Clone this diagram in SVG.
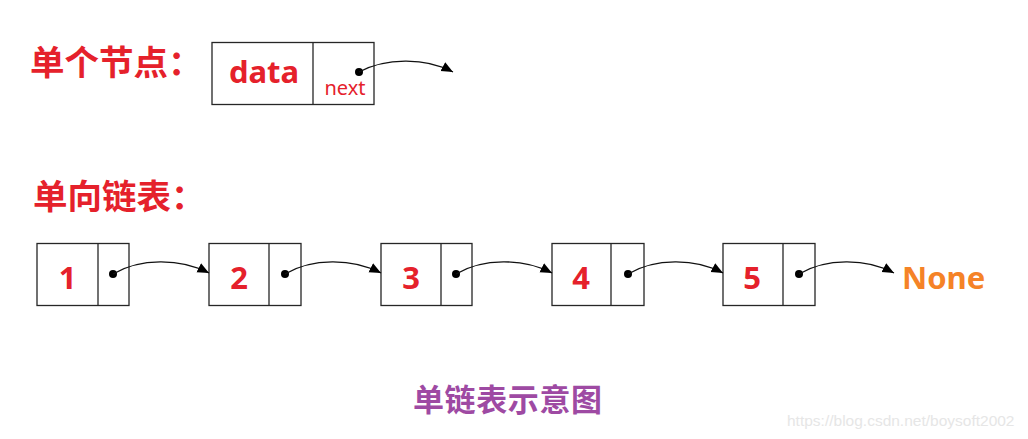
<svg xmlns="http://www.w3.org/2000/svg" width="1028" height="439" viewBox="0 0 1028 439">
<style>
.box{fill:#fff;stroke:#262626;stroke-width:1.3}
.div{stroke:#262626;stroke-width:1.3}
.cn{font-family:"Noto Sans CJK SC","Noto Sans",sans-serif;font-weight:bold;font-size:34.5px;fill:#e5212b}
.num{font-family:"Noto Sans","Open Sans",sans-serif;font-weight:bold;font-size:31px;fill:#e5212b;text-anchor:middle}
.dot{fill:#000}
.link{fill:none;stroke:#111;stroke-width:1.3;marker-end:url(#ah)}
</style>
<defs>
<marker id="ah" markerUnits="userSpaceOnUse" markerWidth="13" markerHeight="11" refX="11.5" refY="5" orient="auto">
<path d="M0,0 L11.5,5 L0,10 z" fill="#000"/>
</marker>
</defs>
<rect width="1028" height="439" fill="#fff"/>
<text class="cn" x="30" y="75">单个节点：</text>
<text class="cn" x="33" y="209">单向链表：</text>
<g id="single-node">
<rect class="box" x="212" y="42.5" width="162" height="62"/>
<line class="div" x1="313" y1="42.5" x2="313" y2="104.5"/>
<text class="num" x="264" y="83" font-size="32">data</text>
<text x="345" y="95" font-family="'Noto Sans','Open Sans',sans-serif" font-size="20" fill="#e5212b" text-anchor="middle">next</text>
<circle class="dot" cx="359" cy="72" r="4"/>
</g>
<g id="node1">
<rect class="box" x="37" y="243.5" width="92" height="62"/>
<line class="div" x1="98" y1="243.5" x2="98" y2="305.5"/>
<text class="num" x="67.5" y="289">1</text>
<circle class="dot" cx="113" cy="274" r="4"/>
</g>
<g id="node2">
<rect class="box" x="209" y="243.5" width="92" height="62"/>
<line class="div" x1="269" y1="243.5" x2="269" y2="305.5"/>
<text class="num" x="239" y="289">2</text>
<circle class="dot" cx="285" cy="274" r="4"/>
</g>
<g id="node3">
<rect class="box" x="381" y="243.5" width="91" height="62"/>
<line class="div" x1="441" y1="243.5" x2="441" y2="305.5"/>
<text class="num" x="411" y="289">3</text>
<circle class="dot" cx="456" cy="274" r="4"/>
</g>
<g id="node4">
<rect class="box" x="552" y="243.5" width="92" height="62"/>
<line class="div" x1="611" y1="243.5" x2="611" y2="305.5"/>
<text class="num" x="581" y="289">4</text>
<circle class="dot" cx="628" cy="274" r="4"/>
</g>
<g id="node5">
<rect class="box" x="723" y="243.5" width="92" height="62"/>
<line class="div" x1="783" y1="243.5" x2="783" y2="305.5"/>
<text class="num" x="752" y="289">5</text>
<circle class="dot" cx="799" cy="274" r="4"/>
</g>
<g id="none">
<text x="902" y="289" font-family="'Noto Sans','Open Sans',sans-serif" font-weight="bold" font-size="31" fill="#f58327">None</text>
</g>
<g id="connectors">
<path class="link" d="M359,72 C385,58 425,57 453,72"/>
<path class="link" d="M113,274 C140,258 180,258 209,273"/>
<path class="link" d="M285,274 C312,258 352,258 381,273"/>
<path class="link" d="M456,274 C483,258 523,258 552,273"/>
<path class="link" d="M628,274 C655,258 695,258 723,273"/>
<path class="link" d="M799,274 C826,258 866,258 894,273"/>
</g>
<text x="413" y="411" font-family="'Noto Sans CJK SC',sans-serif" font-weight="bold" font-size="31" fill="#9e4aa3" letter-spacing="0.6">单链表示意图</text>
<text x="787" y="426" font-family="'Liberation Sans',Arial,sans-serif" font-size="15.5" fill="#e6e6e6">https://blog.csdn.net/boysoft2002</text>
</svg>
